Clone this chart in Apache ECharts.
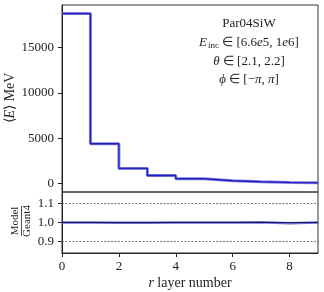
<!DOCTYPE html>
<html><head><meta charset="utf-8">
<script src="https://cdn.jsdelivr.net/npm/echarts@6/dist/echarts.min.js"></script>
<style>html,body{margin:0;padding:0;background:#fff;}#c{width:324px;height:292px;}</style>
</head><body><div id="c"></div>
<script>
// bin edges (r layer number) and values
const binEdges = [0,1,2,3,4,5,6,7,8,9];
const geant4Energy = [18750, 4390, 1660, 880, 520, 300, 190, 115, 70];
const ratioValues = [1.000, 0.999, 0.999, 1.000, 1.000, 1.000, 1.001, 0.996, 1.000];
const modelEnergy = geant4Energy.map((v,i)=>v*ratioValues[i]);
const yTicksTop = [0,5000,10000,15000];
const yTicksRatio = [0.9,1.0,1.1];
const xTicks = [0,2,4,6,8];
const annotation = ['Par04SiW','E_inc ∈ [6.6e5, 1e6]','θ ∈ [2.1, 2.2]','ϕ ∈ [−π, π]'];

function stepData(vals){
  const d = vals.map((v,i)=>[binEdges[i], v]);
  d.push([binEdges[binEdges.length-1], vals[vals.length-1]]);
  return d;
}
const FONT = 'Liberation Serif';
const chart = echarts.init(document.getElementById('c'), null, {renderer:'canvas'});
const axisLineStyle = {color:'#222', width:1};
chart.setOption({
  animation:false,
  textStyle:{fontFamily:FONT},
  grid:[
    {left:62, right:6, top:5, height:187, show:true, borderColor:'#333', borderWidth:1, containLabel:false, outerBoundsMode:'none'},
    {left:62, right:6, top:192, height:61, show:true, borderColor:'#333', borderWidth:1, containLabel:false, outerBoundsMode:'none'}
  ],
  xAxis:[
    {type:'value', gridIndex:0, min:0, max:9, axisLine:{show:false}, axisTick:{show:false}, axisLabel:{show:false}, splitLine:{show:false}},
    {type:'value', gridIndex:1, min:0, max:9, axisLine:{show:true, onZero:false, lineStyle:axisLineStyle},
      axisTick:{show:true, length:4, lineStyle:{color:'#222'}, customValues:xTicks},
      axisLabel:{color:'#222', fontSize:13, fontFamily:FONT, margin:7, customValues:xTicks, formatter:v=>String(v)},
      splitLine:{show:false},
      name:'{i|r} layer number', nameLocation:'middle', nameGap:23,
      nameTextStyle:{color:'#222', fontSize:14, fontFamily:FONT, rich:{i:{fontStyle:'italic', fontSize:14, fontFamily:FONT, color:'#222'}}}}
  ],
  yAxis:[
    {type:'value', gridIndex:0, min:-940, max:19700,
      axisLine:{show:true, onZero:false, lineStyle:axisLineStyle},
      axisTick:{show:true, length:4, lineStyle:{color:'#222'}, customValues:yTicksTop},
      axisLabel:{color:'#222', fontSize:13, fontFamily:FONT, margin:8, customValues:yTicksTop, formatter:v=>String(v)},
      splitLine:{show:false}},
    {type:'value', gridIndex:1, min:0.84, max:1.16,
      axisLine:{show:true, onZero:false, lineStyle:axisLineStyle},
      axisTick:{show:true, length:4, lineStyle:{color:'#222'}, customValues:yTicksRatio},
      axisLabel:{color:'#222', fontSize:13, fontFamily:FONT, margin:8, customValues:yTicksRatio, formatter:v=>v.toFixed(1)},
      splitLine:{show:false}}
  ],
  series:[
    {name:'Geant4', type:'line', xAxisIndex:0, yAxisIndex:0, step:'end', symbol:'none',
      data:stepData(geant4Energy), lineStyle:{color:'rgba(90,90,210,0.75)', width:3}},
    {name:'Model', type:'line', xAxisIndex:0, yAxisIndex:0, step:'end', symbol:'none',
      data:stepData(modelEnergy), lineStyle:{color:'#1f1fc0', width:1.3}},
    {name:'Ratio', type:'line', xAxisIndex:1, yAxisIndex:1, step:'end', symbol:'none', z:3,
      data:stepData(ratioValues), lineStyle:{color:'rgba(70,70,200,0.8)', width:2.5},
      markLine:{silent:true, symbol:'none', label:{show:false},
        data:[
          {yAxis:1.1, lineStyle:{color:'#777', type:[2,1.5], width:1}},
          {yAxis:0.9, lineStyle:{color:'#777', type:[2,1.5], width:1}},
          {yAxis:1.0, lineStyle:{color:'#1a1a5a', type:'solid', width:1.2}}
        ]}}
  ],
  graphic:[
    {type:'text', x:10, y:98, rotation:Math.PI/2, style:{text:'⟨{i|E}⟩ MeV', font:'14px "Liberation Serif"', fill:'#222', align:'center', verticalAlign:'middle',
      rich:{i:{fontStyle:'italic', fontSize:14, fontFamily:FONT, fill:'#222'}}}},
    {type:'text', x:249, y:24, style:{text:annotation[0], font:'13px "Liberation Serif"', fill:'#222', align:'center', verticalAlign:'middle'}},
    {type:'text', x:249, y:43, style:{text:'{i|E}{s|inc} ∈ [6.6{i|e}5, 1{i|e}6]', font:'13px "Liberation Serif"', fill:'#222', align:'center', verticalAlign:'middle',
      rich:{i:{fontStyle:'italic', fontSize:13, fontFamily:FONT, fill:'#222'}, s:{fontSize:9, fontFamily:FONT, fill:'#222', padding:[6,0,0,1]}}}},
    {type:'text', x:249, y:62, style:{text:'{i|θ} ∈ [2.1, 2.2]', font:'13px "Liberation Serif"', fill:'#222', align:'center', verticalAlign:'middle',
      rich:{i:{fontStyle:'italic', fontSize:13, fontFamily:FONT, fill:'#222'}}}},
    {type:'text', x:249, y:80, style:{text:'{i|ϕ} ∈ [−{i|π}, {i|π}]', font:'13px "Liberation Serif"', fill:'#222', align:'center', verticalAlign:'middle',
      rich:{i:{fontStyle:'italic', fontSize:13, fontFamily:FONT, fill:'#222'}}}},
    {type:'group', x:21, y:221, rotation:Math.PI/2, children:[
      {type:'text', x:0, y:0, style:{text:'Model', font:'11px "Liberation Serif"', fill:'#222', align:'center', verticalAlign:'bottom'}},
      {type:'text', x:0, y:1, style:{text:'Geant4', font:'11px "Liberation Serif"', fill:'#222', align:'center', verticalAlign:'top'}},
      {type:'line', shape:{x1:-15, y1:0.5, x2:15, y2:0.5}, style:{stroke:'#222', lineWidth:0.8}}
    ]}
  ]
});
</script></body></html>
